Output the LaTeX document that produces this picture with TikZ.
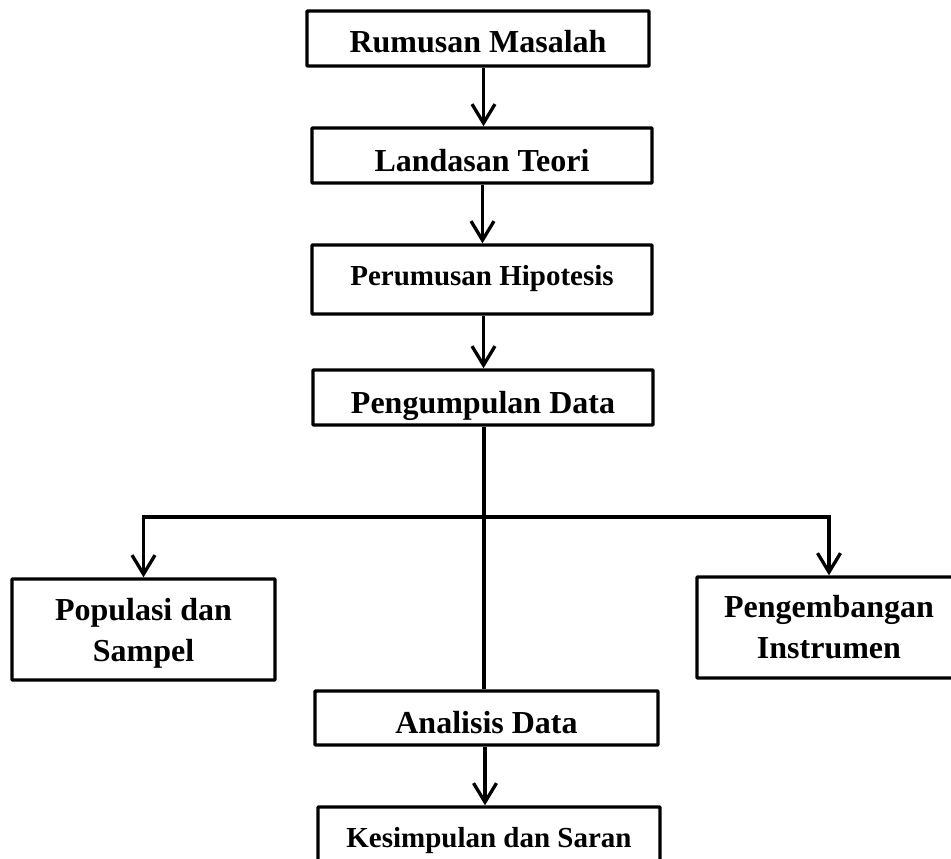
\documentclass[tikz,border=0pt]{standalone}
\usepackage{fontspec}
\setmainfont{Liberation Serif}
\usetikzlibrary{arrows.meta}
\begin{document}
\begin{tikzpicture}[x=1pt,y=-1pt,
  box/.style={draw=black, line width=3.4pt, rounded corners=0.8pt, inner sep=0pt, fill=white,
    font=\bfseries\fontsize{32}{41}\selectfont, align=center},
  smalltxt/.style={font=\bfseries\fontsize{29}{37}\selectfont},
  conn/.style={line width=3.3pt, draw=black},
  arr/.style={conn, -{Straight Barb[length=19pt,width=23pt,line width=3.3pt]}}]
\useasboundingbox (0,0) rectangle (951,859);
\clip (0,0) rectangle (951,859);
\coordinate (mx) at (483.5,0);
% boxes
\node[box, minimum width=342pt, minimum height=55pt, text height=29pt, text depth=0pt] (rm) at (478,38.5) {Rumusan Masalah};
\node[box, minimum width=340pt, minimum height=55pt, text height=31pt, text depth=0pt] (lt) at (482,155.5) {Landasan Teori};
\node[box, smalltxt, minimum width=340pt, minimum height=69pt, text height=11pt, text depth=0pt] (ph) at (482,279.5) {Perumusan Hipotesis};
\node[box, minimum width=340pt, minimum height=55pt,
  path picture={\node[font=\bfseries\fontsize{32}{41}\selectfont, anchor=base] (pdt) at ([yshift=-15.5pt]path picture bounding box.center) {Pengumpulan Data};}] (pd) at (483,397.5) {};
\node[box, minimum width=263pt, minimum height=101pt, text depth=0pt] (ps) at (143.5,629.5) {Populasi dan\\Sampel};
\node[box, minimum width=264pt, minimum height=101pt] (pi) at (829,627.5) {Pengembangan\\Instrumen};
\node[box, minimum width=343pt, minimum height=54pt, text height=30pt, text depth=0pt] (ad) at (486.5,718) {Analisis Data};
\node[box, smalltxt, minimum width=342pt, minimum height=80pt, text height=0pt, text depth=0pt] (ks) at (489,847) {Kesimpulan dan Saran};
% connectors
\draw[arr] (rm.south -| mx) -- (lt.north -| mx);
\draw[arr] ([xshift=-1pt]lt.south -| mx) -- ([xshift=-1pt]ph.north -| mx);
\draw[arr] (ph.south -| mx) -- (pd.north -| mx);
\coordinate (jn) at (484,517);
\draw[conn] (pd.south -| jn) -- (ad.north -| jn);
\draw[arr] (jn) -| (ps.north);
\draw[arr] (jn) -| (pi.north);
\draw[arr] ([xshift=1.5pt]ad.south -| mx) -- ([xshift=1.5pt]ks.north -| mx);
\end{tikzpicture}
\end{document}
